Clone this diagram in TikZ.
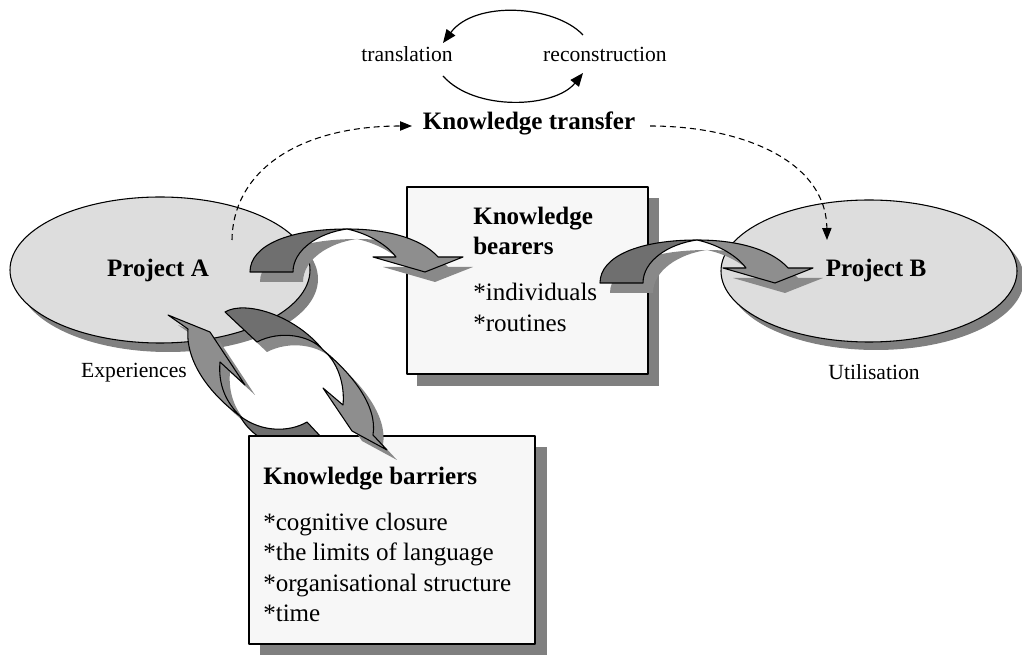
\documentclass[tikz,border=0pt]{standalone}
\usepackage{fontspec}
\setmainfont{Liberation Serif}
\usetikzlibrary{arrows.meta}
\definecolor{ellfill}{HTML}{DDDDDD}
\definecolor{boxfill}{HTML}{F7F7F7}
\definecolor{dropgray}{HTML}{808080}
\definecolor{arrdark}{HTML}{6F6F6F}
\definecolor{arrlight}{HTML}{8E8E8E}
\definecolor{arrshadow}{HTML}{898989}
\begin{document}
\begin{tikzpicture}[x=0.75pt,y=-0.75pt,
  outl/.style={draw=black,line width=0.8pt,line join=round},
  drop/.style={fill=dropgray,draw=none},
  lbl/.style={font=\fontsize{16.2}{19}\selectfont,inner sep=0pt},
  hd/.style={font=\fontsize{18.8}{22}\selectfont\bfseries,inner sep=0pt},
  item/.style={font=\fontsize{18.8}{22}\selectfont,inner sep=0pt,anchor=base west},
  cyc/.style={line width=0.9pt,-{Triangle[length=10pt,width=8pt]}},
  dashlink/.style={line width=0.8pt,dash pattern=on 4.5pt off 3pt,-{Triangle[length=9pt,width=7pt]}},
  bendarrow/.pic={
    % shadow of the twisted band
    \fill[arrshadow,shift={(10,10)}] (347,229) .. controls (395,229) and (425,242) .. (438,257) -- (463,257) -- (425,272) -- (373,257) -- (396,257) .. controls (388,246) and (370,234) .. (347,229) -- cycle;
    \fill[arrshadow,shift={(10,10)}] (250,272) .. controls (250,245) and (290,229) .. (347,229) .. controls (318,233) and (293,250) .. (293,272) -- cycle;
    % front face with the head
    \draw[outl,fill=arrlight] (347,229) .. controls (395,229) and (425,242) .. (438,257) -- (463,257) -- (425,272) -- (373,257) -- (396,257) .. controls (388,246) and (370,234) .. (347,229) -- cycle;
    % darker back face at the tail
    \draw[outl,fill=arrdark] (250,272) .. controls (250,245) and (290,229) .. (347,229) .. controls (318,233) and (293,250) .. (293,272) -- cycle;
  }]
\useasboundingbox (0,0) rectangle (1022,655);

% ---- projects ----
\path[drop] (168,279) ellipse [x radius=150, y radius=73];
\draw[outl,fill=ellfill] (160,270) ellipse [x radius=150, y radius=73];
\path[drop] (876,279) ellipse [x radius=148, y radius=71];
\draw[outl,fill=ellfill] (869,271) ellipse [x radius=148, y radius=71];

% ---- knowledge bearers box ----
\path[drop] (417,198) rectangle (659,386);
\draw[outl,fill=boxfill] (407,187) rectangle (648,374);

% ---- transfer arrows between the projects and the bearers ----
\pic at (0,0) {bendarrow};
\pic at (350,11) {bendarrow};

% ---- arrow from the barriers back to project A ----
\fill[arrshadow,shift={(10,10)}] (168,315) -- (210,332) -- (245,385) -- (220,362) .. controls (218,385) and (226,402) .. (240,416) .. controls (215,398) and (185,365) .. (188,329) -- cycle;
\fill[arrshadow,shift={(10,10)}] (240,416) .. controls (255,445) and (300,460) .. (335,452) -- (307,422) .. controls (290,432) and (262,433) .. (240,416) -- cycle;
\draw[outl,fill=arrlight] (168,315) -- (210,332) -- (245,385) -- (220,362) .. controls (218,385) and (226,402) .. (240,416) .. controls (215,398) and (185,365) .. (188,329) -- cycle;
\draw[outl,fill=arrdark] (240,416) .. controls (255,445) and (300,460) .. (335,452) -- (307,422) .. controls (290,432) and (262,433) .. (240,416) -- cycle;

% ---- knowledge barriers box ----
\path[drop] (260,447) rectangle (547,655);
\draw[outl,fill=boxfill] (249,436) rectangle (535,644);

% ---- arrow from project A down to the barriers ----
\fill[arrshadow,shift={(10,10)}] (323,350) .. controls (350,372) and (378,405) .. (373,435) -- (387,450) -- (352,431) -- (323,388) -- (343,405) .. controls (345,385) and (338,362) .. (323,350) -- cycle;
\fill[arrshadow,shift={(10,10)}] (225,312) .. controls (245,300) and (295,315) .. (323,350) .. controls (310,335) and (280,330) .. (257,342) -- cycle;
\draw[outl,fill=arrlight] (323,350) .. controls (350,372) and (378,405) .. (373,435) -- (387,450) -- (352,431) -- (323,388) -- (343,405) .. controls (345,385) and (338,362) .. (323,350) -- cycle;
\draw[outl,fill=arrdark] (225,312) .. controls (245,300) and (295,315) .. (323,350) .. controls (310,335) and (280,330) .. (257,342) -- cycle;

% ---- labels ----
\node[lbl,anchor=base] (transl) at (407,62) {translation};
\node[lbl,anchor=base] (recon) at (605,62) {reconstruction};
\node[hd,anchor=base] (kt) at (529,130) {Knowledge transfer};
\node[hd,anchor=base] (pa) at (158,277) {Project A};
\node[hd,anchor=base] (pb) at (876,277) {Project B};
\node[lbl,anchor=base] (exp) at (134,378) {Experiences};
\node[lbl,anchor=base] (util) at (874,380) {Utilisation};

\node[hd,anchor=base west] (kb1) at (473,225) {Knowledge};
\node[hd,anchor=base west] (kb2) at (473,255) {bearers};
\node[item] (kb3) at (473,301) {*individuals};
\node[item] (kb4) at (473,332) {*routines};

\node[hd,anchor=base west] (kr0) at (263,485) {Knowledge barriers};
\node[item] (kr1) at (263,531) {*cognitive closure};
\node[item] (kr2) at (263,561) {*the limits of language};
\node[item] (kr3) at (263,592) {*organisational structure};
\node[item] (kr4) at (263,622) {*time};

% ---- translation / reconstruction cycle ----
\coordinate (reconTop) at (583,35);
\coordinate (translTop) at (443,43);
\coordinate (translBot) at (443,76);
\coordinate (reconBot) at (583,73);
\draw[cyc] (reconTop) .. controls (555,5) and (475,0) .. (translTop);
\draw[cyc] (translBot) .. controls (475,112) and (555,108) .. (reconBot);

% ---- dashed transfer links ----
\coordinate (aStart) at (232,240);
\coordinate (ktIn) at (412,126);
\coordinate (ktOut) at (650,126);
\coordinate (bEnd) at (827,240);
\draw[dashlink] (aStart) .. controls (233,170) and (300,126) .. (ktIn);
\draw[dashlink] (ktOut) .. controls (740,126) and (826,160) .. (bEnd);
\end{tikzpicture}
\end{document}
